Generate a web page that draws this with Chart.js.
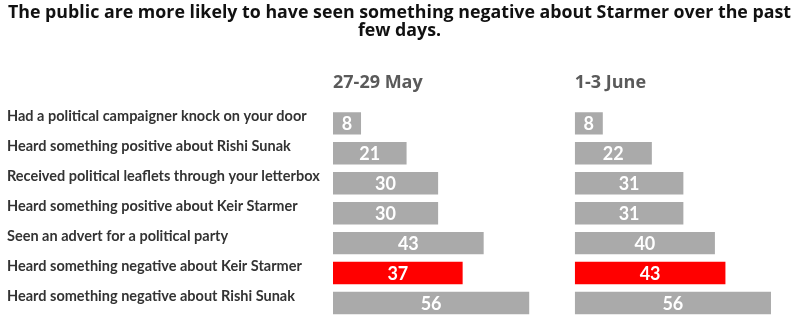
<!DOCTYPE html>
<html>
<head>
<meta charset="utf-8">
<script src="https://cdn.jsdelivr.net/npm/chart.js@4"></script>
<style>
  html, body { margin: 0; padding: 0; background: #fff; }
  #wrap { position: relative; width: 795px; height: 335px; }
</style>
</head>
<body>
<div id="wrap"><canvas id="seenChart"></canvas></div>
<script>
// Survey items, top to bottom
const activities = [
    'Had a political campaigner knock on your door',
    'Heard something positive about Rishi Sunak',
    'Received political leaflets through your letterbox',
    'Heard something positive about Keir Starmer',
    'Seen an advert for a political party',
    'Heard something negative about Keir Starmer',
    'Heard something negative about Rishi Sunak'
];
const periods = ['27-29 May', '1-3 June'];
const may = [8, 21, 30, 30, 43, 37, 56];
const june = [8, 22, 31, 31, 40, 43, 56];
const highlighted = 'Heard something negative about Keir Starmer';

const FONT = 'Lato, "Open Sans", sans-serif';
const TITLE_FONT = '"Open Sans", Lato, sans-serif';
const GREY = '#aaaaaa';
const RED = '#ff0000';
const colours = activities.map(a => a === highlighted ? RED : GREY);

// Each panel gets its own x axis; both sit side by side in one stack
const PANEL1_MAX = 69;
const PANEL2_MAX = 62;

// White value in the middle of every bar
const barValueLabels = {
    id: 'barValueLabels',
    afterDatasetsDraw(chart) {
        const ctx = chart.ctx;
        ctx.save();
        ctx.font = 'bold 18px ' + FONT;
        ctx.fillStyle = '#ffffff';
        ctx.textAlign = 'center';
        ctx.textBaseline = 'middle';
        chart.data.datasets.forEach((ds, i) => {
            chart.getDatasetMeta(i).data.forEach((bar, j) => {
                ctx.fillText(ds.data[j], (bar.x + bar.base) / 2, bar.y + 1);
            });
        });
        ctx.restore();
    }
};

function panelAxis(title, max) {
    return {
        type: 'linear',
        position: 'top',
        stack: 'panels',
        stackWeight: max,
        min: 0,
        max: max,
        ticks: { display: false },
        grid: { display: false, drawTicks: false, tickLength: 0 },
        border: { display: false },
        title: {
            display: true,
            text: title,
            align: 'start',
            color: '#5a5a5a',
            font: { family: TITLE_FONT, size: 18, weight: 'bold', lineHeight: 1.1 },
            padding: { top: 33, bottom: 16 }
        }
    };
}

const ctx = document.getElementById('seenChart').getContext('2d');
const seenChart = new Chart(ctx, {
    type: 'bar',
    data: {
        labels: activities,
        datasets: [{
            label: periods[0],
            data: may,
            xAxisID: 'x1',
            backgroundColor: colours
        }, {
            label: periods[1],
            data: june,
            xAxisID: 'x2',
            backgroundColor: colours
        }]
    },
    options: {
        indexAxis: 'y',
        responsive: true,
        maintainAspectRatio: false,
        animation: false,
        layout: { padding: { left: 7, right: 3, top: 0, bottom: 17 } },
        datasets: {
            bar: { grouped: false, categoryPercentage: 1, barPercentage: 0.75 }
        },
        plugins: {
            legend: { display: false },
            tooltip: { enabled: false },
            title: {
                display: true,
                text: ['The public are more likely to have seen something negative about Starmer over the past', 'few days.'],
                color: '#111111',
                font: { family: TITLE_FONT, size: 17.8, weight: 'bold', lineHeight: 1 },
                padding: { top: 4, bottom: 0 }
            }
        },
        scales: {
            // top boxes are laid out in reverse order, so the right panel comes first
            x2: panelAxis(periods[1], PANEL2_MAX),
            x1: panelAxis(periods[0], PANEL1_MAX),
            y: {
                type: 'category',
                position: 'left',
                grid: { display: false, drawTicks: false },
                border: { display: false },
                ticks: {
                    crossAlign: 'far',
                    labelOffset: -7,
                    color: '#333333',
                    font: { family: FONT, size: 14.5, weight: 'bold' }
                },
                afterFit(scale) {
                    scale.width = 326;
                }
            }
        }
    },
    plugins: [barValueLabels]
});
</script>
</body>
</html>
